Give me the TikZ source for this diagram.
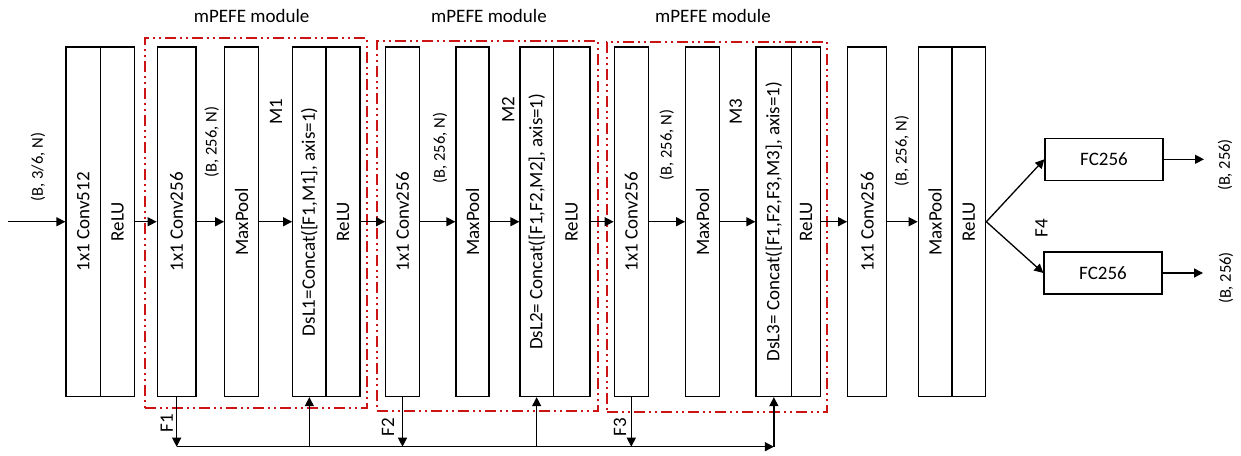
\documentclass[tikz,border=0pt]{standalone}
\usepackage{fontspec}
\setmainfont{Carlito}
\usetikzlibrary{arrows.meta}
\definecolor{modred}{RGB}{205,20,20}
\tikzset{
  blk/.style={draw=black, line width=1.3pt, inner sep=0pt, minimum height=349.5pt, font=\fontsize{19}{22}\selectfont},
  fcbox/.style={draw=black, line width=1.3pt, inner sep=0pt, minimum width=118pt, minimum height=42pt, font=\fontsize{19}{22}\selectfont},
  modbox/.style={draw=modred, line width=2pt, dash pattern=on 11pt off 4pt on 2pt off 4pt on 2pt off 4pt, inner sep=0pt},
  arr/.style={line width=1.3pt, -{Triangle[length=9pt,width=9pt]}},
  dimlbl/.style={font=\fontsize{16.5}{19}\selectfont, rotate=90, inner sep=0pt},
  siglbl/.style={font=\fontsize{19}{22}\selectfont, rotate=90, inner sep=0pt},
  title/.style={font=\fontsize{19}{22}\selectfont, inner sep=0pt}
}
\begin{document}
\begin{tikzpicture}[x=1pt,y=1pt]
\useasboundingbox (0,0) rectangle (1241,455);
% module frames
\node[modbox, minimum width=222pt, minimum height=370pt] (m1) at (256,232) {};
\node[modbox, minimum width=221pt, minimum height=370pt] (m2) at (487.5,229) {};
\node[modbox, minimum width=220pt, minimum height=370pt] (m3) at (717,228) {};
\node[title] (t1) at (251.7,439.3) {mPEFE module};
\node[title] (t2) at (489,439.3) {mPEFE module};
\node[title] (t3) at (713,439.3) {mPEFE module};
% blocks
\node[blk, minimum width=34.7pt] (conva) at (83.35,233.25) {\rotatebox{90}{1x1 Conv512}};
\node[blk, minimum width=33.6pt] (relua) at (117.5,233.25) {\rotatebox{90}{ReLU}};
\node[blk, minimum width=38.7pt] (convb) at (176.65,233.25) {\rotatebox{90}{1x1 Conv256}};
\node[blk, minimum width=34pt] (poolb) at (241.7,233.25) {\rotatebox{90}{MaxPool}};
\node[blk, minimum width=33.3pt] (dslb) at (309.35,233.25) {\rotatebox{90}{DsL1=Concat([F1,M1], axis=1)}};
\node[blk, minimum width=34pt] (relub) at (343,233.25) {\rotatebox{90}{ReLU}};
\node[blk, minimum width=33.6pt] (convc) at (402.5,233.25) {\rotatebox{90}{1x1 Conv256}};
\node[blk, minimum width=33pt] (poolc) at (472.5,233.25) {\rotatebox{90}{MaxPool}};
\node[blk, minimum width=33.3pt] (dslc) at (536.65,233.25) {\rotatebox{90}{DsL2= Concat([F1,F2,M2], axis=1)}};
\node[blk, minimum width=36.7pt] (reluc) at (571.65,233.25) {\rotatebox{90}{ReLU}};
\node[blk, minimum width=34pt] (convd) at (631.3,233.25) {\rotatebox{90}{1x1 Conv256}};
\node[blk, minimum width=33.6pt] (poold) at (702.5,233.25) {\rotatebox{90}{MaxPool}};
\node[blk, minimum width=35.7pt] (dsld) at (773.85,233.25) {\rotatebox{90}{DsL3= Concat([F1,F2,F3,M3], axis=1)}};
\node[blk, minimum width=29pt] (relud) at (806.2,233.25) {\rotatebox{90}{ReLU}};
\node[blk, minimum width=39pt] (conve) at (867.2,233.25) {\rotatebox{90}{1x1 Conv256}};
\node[blk, minimum width=33.7pt] (poole) at (935.15,233.25) {\rotatebox{90}{MaxPool}};
\node[blk, minimum width=33.7pt] (relue) at (968.85,233.25) {\rotatebox{90}{ReLU}};
\node[fcbox] (fca) at (1104,295.7) {FC256};
\node[fcbox] (fcb) at (1103,182) {FC256};
% free ends
\coordinate (in) at (8,233.25);
\coordinate (outa) at (1204,295.7);
\coordinate (outb) at (1203,182);
\coordinate (busy) at (0,8.3);
% labels
\node[dimlbl] (d0) at (38,288) {(B, 3/6, N)};
\node[dimlbl] (d1) at (211.7,313) {(B, 256, N)};
\node[dimlbl] (d2) at (440,307) {(B, 256, N)};
\node[dimlbl] (d3) at (666.7,310) {(B, 256, N)};
\node[dimlbl] (d4) at (901.7,304) {(B, 256, N)};
\node[siglbl] (lm1) at (276,343) {M1};
\node[siglbl] (lm2) at (508.3,345) {M2};
\node[siglbl] (lm3) at (735.7,343) {M3};
\node[siglbl] (lf1) at (166.7,32) {F1};
\node[siglbl] (lf2) at (388,28) {F2};
\node[siglbl] (lf3) at (620,28) {F3};
\node[siglbl] (lf4) at (1041.5,227) {F4};
\node[dimlbl] (o1) at (1225,290) {(B, 256)};
\node[dimlbl] (o2) at (1226,177) {(B, 256)};
% main flow
\draw[arr] (in) -- (conva.west);
\draw[arr] (relua.east) -- (convb.west);
\draw[arr] (convb.east) -- (poolb.west);
\draw[arr] (poolb.east) -- (dslb.west);
\draw[arr] (relub.east) -- (convc.west);
\draw[arr] (convc.east) -- (poolc.west);
\draw[arr] (poolc.east) -- (dslc.west);
\draw[arr] (reluc.east) -- (convd.west);
\draw[arr] (convd.east) -- (poold.west);
\draw[arr] (poold.east) -- (dsld.west);
\draw[arr] (relud.east) -- (conve.west);
\draw[arr] (conve.east) -- (poole.west);
\draw[arr] (relue.east) -- (fca.west);
\draw[arr] (relue.east) -- (fcb.west);
\draw[arr] (fca.east) -- (outa);
\draw[arr] (fcb.east) -- (outb);
% skip bus
\draw[arr] (convb.south) -- (convb.south |- busy);
\draw[arr] (convc.south) -- (convc.south |- busy);
\draw[arr] (convd.south) -- (convd.south |- busy);
\draw[arr] (convb.south |- busy) -- (dsld.south |- busy);
\draw[arr] (dslb.south |- busy) -- (dslb.south);
\draw[arr] (dslc.south |- busy) -- (dslc.south);
\draw[arr] (dsld.south |- busy) -- (dsld.south);
\end{tikzpicture}
\end{document}
